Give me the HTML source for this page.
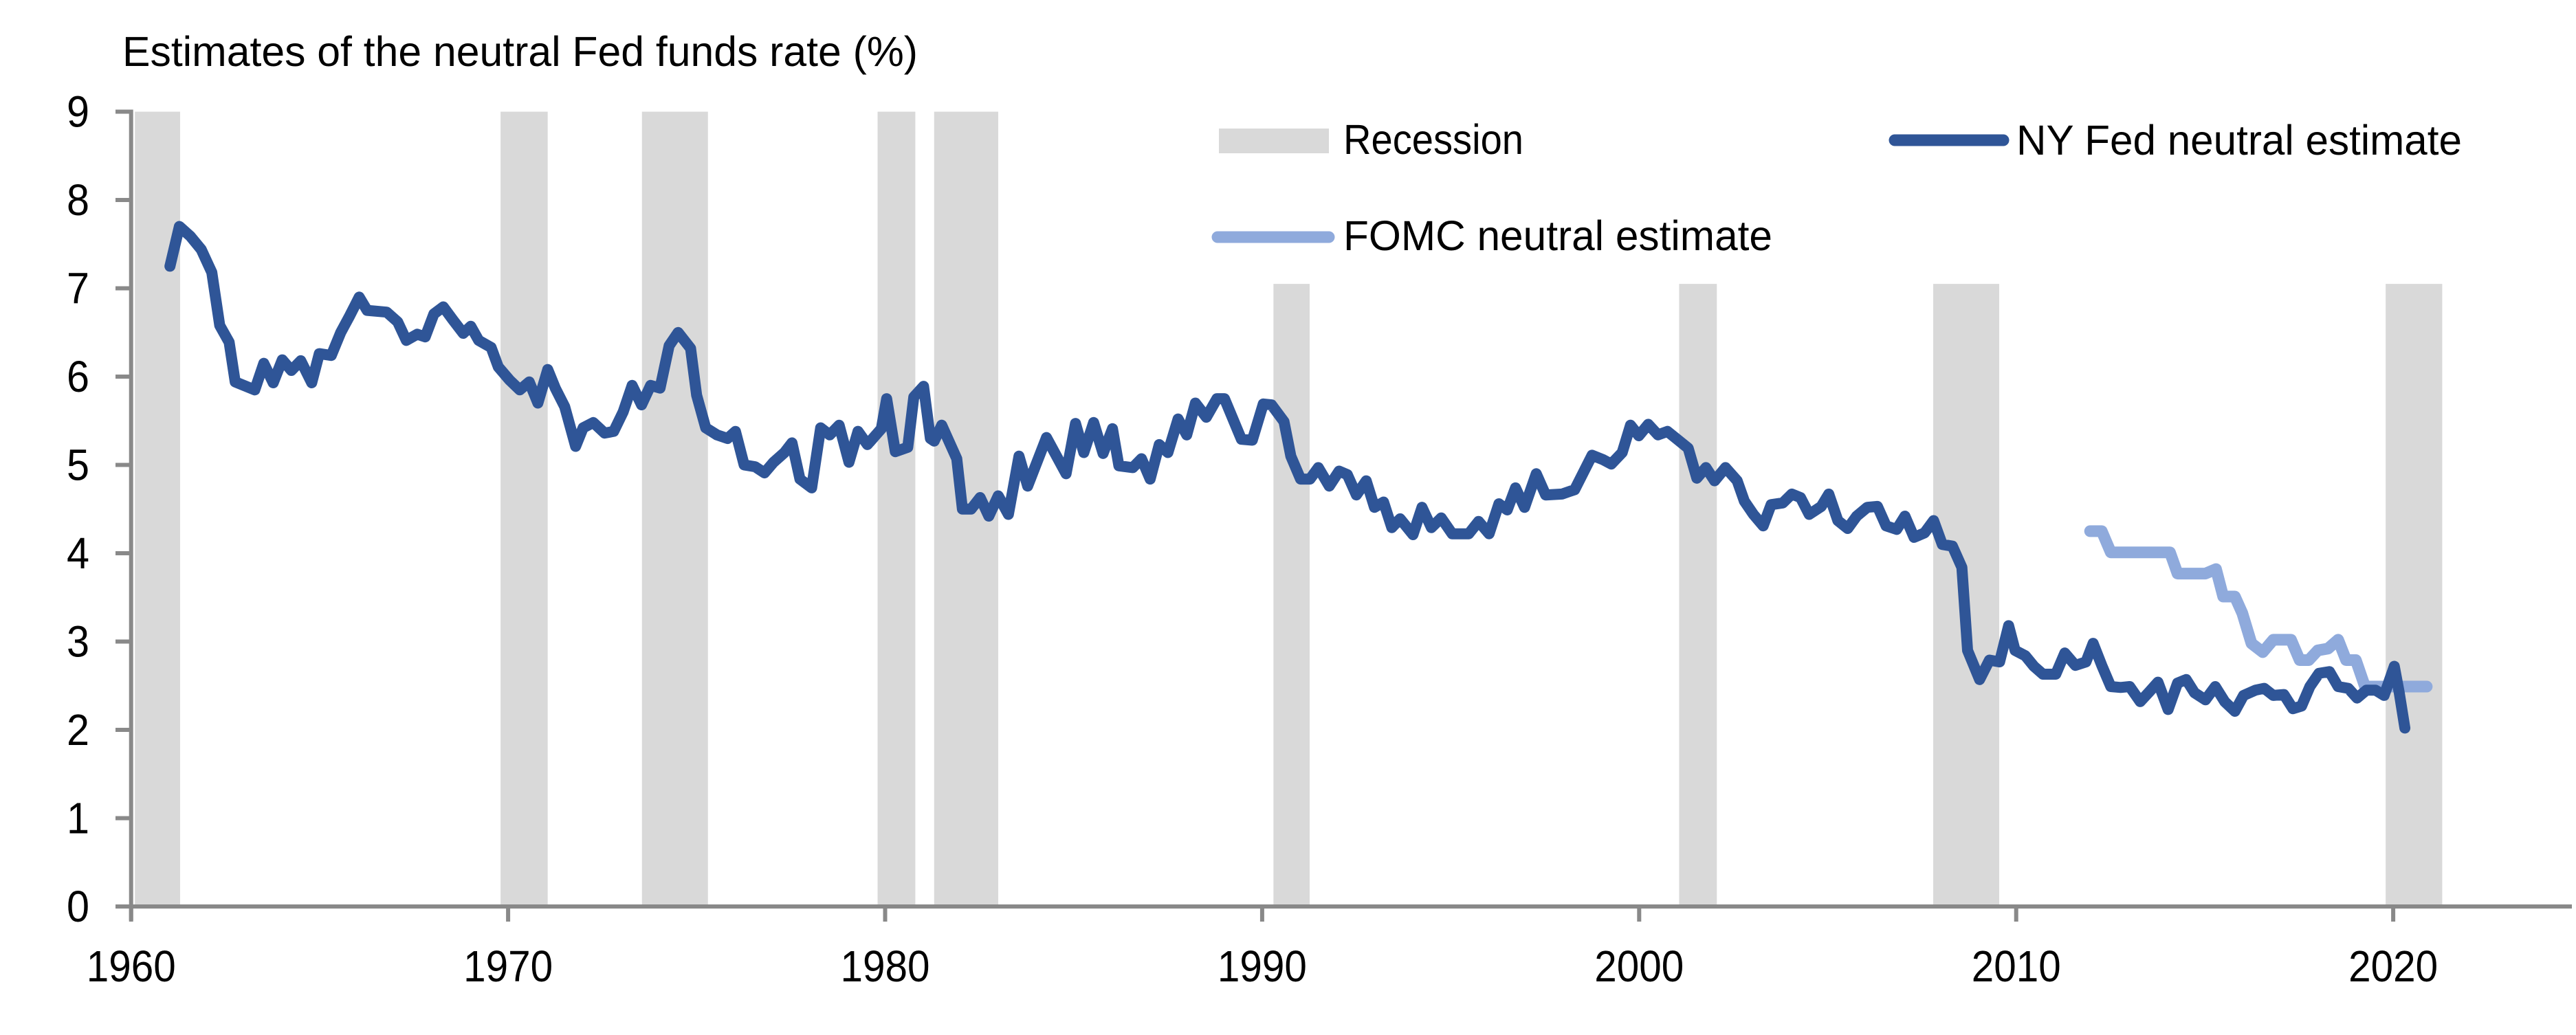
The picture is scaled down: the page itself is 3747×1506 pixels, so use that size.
<!DOCTYPE html>
<html><head><meta charset="utf-8"><style>
html,body{margin:0;padding:0;background:#fff;}
svg{display:block;font-family:"Liberation Sans",Arial,sans-serif;}
</style></head>
<body>
<svg id="chart" width="3747" height="1506" viewBox="0 0 3747 1506" xmlns="http://www.w3.org/2000/svg">
<rect width="3747" height="1506" fill="#fff"/>
<g id="recessions"></g>
<g id="axes"></g>
<g id="series"></g>
<text x="178" y="96" font-size="61" textLength="1157" lengthAdjust="spacingAndGlyphs" fill="#000">Estimates of the neutral Fed funds rate (%)</text>
<g>
  <rect x="1773" y="187" width="160" height="36" fill="#d9d9d9"/>
  <text x="1954" y="224" font-size="61" textLength="262" lengthAdjust="spacingAndGlyphs">Recession</text>
  <line x1="2756" y1="204" x2="2914" y2="204" stroke="#2F5597" stroke-width="17" stroke-linecap="round"/>
  <text x="2933" y="225" font-size="61" textLength="648" lengthAdjust="spacingAndGlyphs">NY Fed neutral estimate</text>
  <line x1="1771" y1="345" x2="1933" y2="345" stroke="#8FAADC" stroke-width="17" stroke-linecap="round"/>
  <text x="1954" y="364" font-size="61" textLength="624" lengthAdjust="spacingAndGlyphs">FOMC neutral estimate</text>
</g>
</svg>
<script>
const recStart = [1960.1, 1969.8, 1973.55, 1979.8, 1981.3, 1990.3, 2001.06, 2007.8, 2019.8];
const recEnd   = [1961.3, 1971.05, 1975.3, 1980.8, 1983.0, 1991.26, 2002.06, 2009.55, 2021.3];
const recTop   = [9, 9, 9, 9, 9, 7.05, 7.05, 7.05, 7.05];
const nyYears = [1961.03,1961.28,1961.57,1961.86,1962.14,1962.35,1962.6,1962.76,1963.28,1963.52,1963.77,1964.01,1964.25,1964.5,1964.79,1964.99,1965.31,1965.56,1965.8,1966.05,1966.26,1966.78,1967.07,1967.3,1967.59,1967.8,1968.03,1968.28,1968.54,1968.81,1969.01,1969.22,1969.55,1969.74,1970.04,1970.31,1970.56,1970.79,1971.05,1971.25,1971.5,1971.79,1971.99,1972.26,1972.56,1972.8,1973.05,1973.29,1973.54,1973.78,1974.03,1974.27,1974.51,1974.84,1975.0,1975.24,1975.54,1975.82,1976.03,1976.26,1976.55,1976.8,1977.04,1977.33,1977.53,1977.74,1978.05,1978.29,1978.53,1978.78,1979.04,1979.28,1979.53,1979.9,1980.04,1980.27,1980.6,1980.76,1981.02,1981.2,1981.3,1981.5,1981.9,1982.05,1982.28,1982.52,1982.75,1983.0,1983.27,1983.55,1983.78,1984.28,1984.8,1985.05,1985.27,1985.53,1985.78,1986.03,1986.2,1986.57,1986.8,1987.03,1987.27,1987.5,1987.77,1988.0,1988.23,1988.52,1988.8,1989.0,1989.45,1989.74,1990.03,1990.25,1990.58,1990.76,1991.02,1991.27,1991.49,1991.78,1992.04,1992.26,1992.5,1992.76,1992.98,1993.22,1993.44,1993.66,1994.0,1994.24,1994.49,1994.75,1995.04,1995.48,1995.74,1996.02,1996.28,1996.5,1996.72,1996.96,1997.27,1997.52,1997.95,1998.29,1998.75,1999.04,1999.26,1999.55,1999.77,1999.99,2000.24,2000.5,2000.75,2001.3,2001.53,2001.77,2002.0,2002.29,2002.6,2002.79,2003.03,2003.29,2003.5,2003.81,2004.05,2004.28,2004.51,2004.83,2005.03,2005.27,2005.53,2005.77,2006.05,2006.32,2006.55,2006.83,2007.05,2007.29,2007.57,2007.81,2008.04,2008.31,2008.56,2008.71,2009.03,2009.29,2009.56,2009.8,2009.97,2010.24,2010.47,2010.71,2011.05,2011.29,2011.57,2011.85,2012.04,2012.27,2012.51,2012.77,2013.01,2013.29,2013.53,2013.76,2014.03,2014.28,2014.51,2014.73,2015.02,2015.28,2015.53,2015.8,2016.03,2016.35,2016.58,2016.82,2017.1,2017.34,2017.57,2017.79,2018.03,2018.31,2018.54,2018.81,2019.04,2019.29,2019.53,2019.76,2020.03,2020.16,2020.31];
const nyValues = [7.25,7.70,7.59,7.44,7.18,6.58,6.39,5.94,5.85,6.15,5.93,6.19,6.07,6.18,5.93,6.26,6.24,6.5,6.69,6.90,6.75,6.73,6.62,6.41,6.48,6.45,6.71,6.79,6.64,6.49,6.57,6.41,6.33,6.11,5.96,5.85,5.94,5.70,6.08,5.87,5.66,5.21,5.42,5.48,5.36,5.38,5.60,5.90,5.68,5.90,5.87,6.35,6.50,6.32,5.79,5.42,5.34,5.30,5.38,5.0,4.98,4.91,5.03,5.14,5.25,4.84,4.74,5.42,5.34,5.45,5.03,5.38,5.23,5.41,5.75,5.15,5.2,5.77,5.89,5.30,5.27,5.45,5.07,4.5,4.5,4.63,4.42,4.65,4.44,5.10,4.76,5.31,4.9,5.47,5.14,5.48,5.13,5.41,4.99,4.97,5.07,4.84,5.23,5.14,5.52,5.34,5.70,5.54,5.75,5.75,5.29,5.28,5.69,5.68,5.49,5.10,4.84,4.84,4.97,4.76,4.93,4.89,4.66,4.82,4.52,4.58,4.29,4.39,4.21,4.52,4.29,4.40,4.22,4.22,4.36,4.22,4.56,4.49,4.74,4.52,4.90,4.66,4.67,4.72,5.11,5.06,5.01,5.14,5.45,5.33,5.46,5.34,5.38,5.19,4.85,4.97,4.82,4.97,4.82,4.59,4.44,4.31,4.55,4.57,4.67,4.63,4.44,4.53,4.67,4.37,4.28,4.42,4.52,4.53,4.31,4.27,4.42,4.18,4.23,4.37,4.10,4.08,3.84,2.90,2.57,2.79,2.77,3.18,2.90,2.84,2.72,2.63,2.63,2.87,2.73,2.77,2.98,2.73,2.49,2.48,2.49,2.32,2.43,2.54,2.23,2.53,2.57,2.42,2.34,2.49,2.32,2.21,2.39,2.45,2.47,2.39,2.40,2.24,2.27,2.49,2.64,2.66,2.49,2.47,2.36,2.45,2.45,2.39,2.72,2.42,2.02];
const fomcYears  = [2011.96,2012.27,2012.51,2014.08,2014.28,2015.02,2015.3,2015.49,2015.8,2016.0,2016.24,2016.54,2016.82,2017.29,2017.52,2017.76,2018.0,2018.27,2018.54,2018.75,2019.01,2019.25,2020.89];
const fomcValues = [4.25,4.25,4.01,4.01,3.77,3.77,3.82,3.51,3.51,3.32,2.98,2.88,3.02,3.02,2.79,2.79,2.90,2.92,3.02,2.79,2.79,2.49,2.49];
const yTicks = [0,1,2,3,4,5,6,7,8,9];
const xTicks = [1960,1970,1980,1990,2000,2010,2020];

const NS = "http://www.w3.org/2000/svg";
function xs(yr){ return 190.7 + (yr - 1960) * 54.84; }
function ys(v){ return 1319 - v * 128.5; }
function mk(tag, attrs, parent){
  const e = document.createElementNS(NS, tag);
  for (const k in attrs) e.setAttribute(k, attrs[k]);
  parent.appendChild(e); return e;
}
const gR = document.getElementById('recessions');
for (let i = 0; i < recStart.length; i++) {
  const r = mk('rect', {x: xs(recStart[i]), y: ys(recTop[i]), width: xs(recEnd[i]) - xs(recStart[i]), height: ys(0) - ys(recTop[i]), fill: '#d9d9d9'}, gR);
  
  
}
const gA = document.getElementById('axes');
const ya = mk('line', {x1: xs(1960), y1: ys(9) - 3, x2: xs(1960), y2: ys(0) + 20, stroke: '#898989', 'stroke-width': 6}, gA);


const xa = mk('line', {x1: 170, y1: ys(0), x2: 3741, y2: ys(0), stroke: '#898989', 'stroke-width': 6}, gA);


yTicks.forEach(v => {
  const t = mk('line', {x1: 168, y1: ys(v), x2: xs(1960), y2: ys(v), stroke: '#898989', 'stroke-width': 6}, gA);
  
  
  const l = mk('text', {x: 130, y: ys(v) + 22, 'font-size': 64, 'text-anchor': 'end', textLength: 33, lengthAdjust: 'spacingAndGlyphs', fill: '#000'}, gA);
  l.textContent = String(v);
  
  
});
xTicks.forEach(yr => {
  const t = mk('line', {x1: xs(yr), y1: ys(0), x2: xs(yr), y2: ys(0) + 22, stroke: '#898989', 'stroke-width': 6}, gA);
  
  
  const l = mk('text', {x: xs(yr), y: 1428, 'font-size': 64, 'text-anchor': 'middle', textLength: 130, lengthAdjust: 'spacingAndGlyphs', fill: '#000'}, gA);
  l.textContent = String(yr);
  
  
});
const gS = document.getElementById('series');
function pts(xsArr, vArr){ return xsArr.map((yr, i) => xs(yr).toFixed(1) + ',' + ys(vArr[i]).toFixed(1)).join(' '); }
const f = mk('polyline', {points: pts(fomcYears, fomcValues), fill: 'none', stroke: '#8FAADC', 'stroke-width': 17, 'stroke-linejoin': 'round', 'stroke-linecap': 'round'}, gS);


const n = mk('polyline', {points: pts(nyYears, nyValues), fill: 'none', stroke: '#2F5597', 'stroke-width': 16, 'stroke-linejoin': 'round', 'stroke-linecap': 'round'}, gS);


</script>
</body></html>
